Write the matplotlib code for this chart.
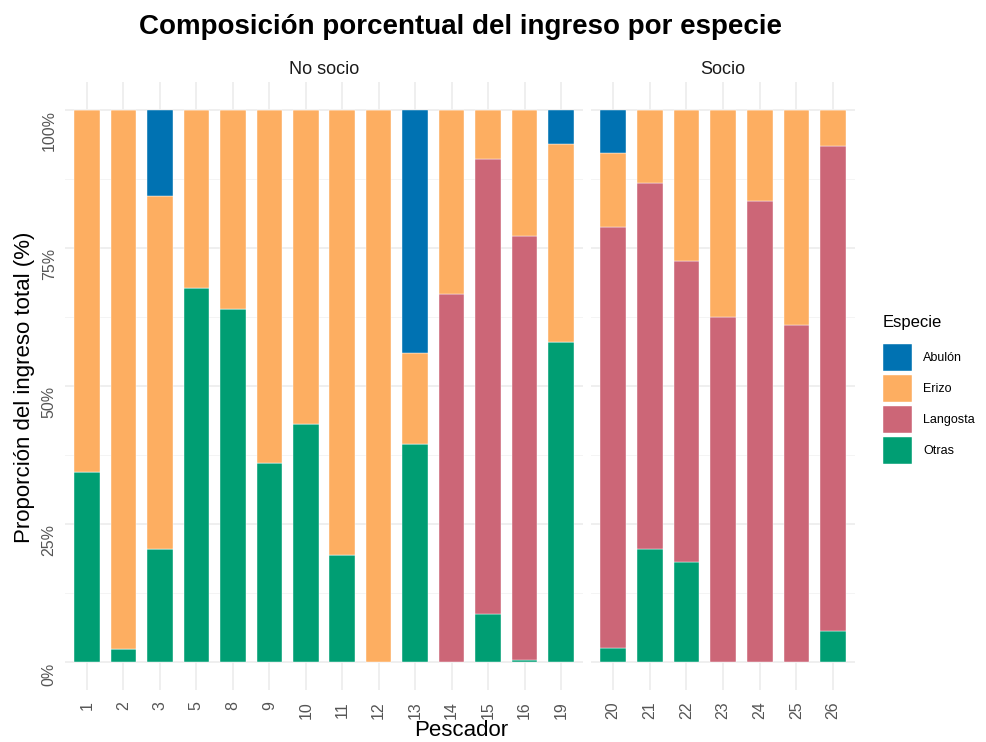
import matplotlib.pyplot as plt
from matplotlib.patches import Patch

plt.rcParams['font.family'] = ['Liberation Sans', 'DejaVu Sans']

# pescadores por grupo
no_socio = ['1', '2', '3', '5', '8', '9', '10', '11', '12', '13', '14', '15', '16', '19']
socio = ['20', '21', '22', '23', '24', '25', '26']

# porcentaje del ingreso por especie (No socio)
otras_ns = [34.4, 2.4, 20.5, 67.7, 64.0, 36.0, 43.2, 19.5, 0, 39.5, 0, 8.7, 0.5, 57.9]
langosta_ns = [0, 0, 0, 0, 0, 0, 0, 0, 0, 0, 66.6, 82.4, 76.7, 0]
erizo_ns = [65.6, 97.6, 63.9, 32.3, 36.0, 64.0, 56.8, 80.5, 100, 16.4, 33.4, 8.9, 22.8, 35.8]
abulon_ns = [0, 0, 15.6, 0, 0, 0, 0, 0, 0, 44.1, 0, 0, 0, 6.3]

# porcentaje del ingreso por especie (Socio)
otras_s = [2.6, 20.6, 18.1, 0, 0, 0, 5.6]
langosta_s = [76.1, 66.1, 54.6, 62.4, 83.5, 61.1, 87.8]
erizo_s = [13.4, 13.3, 27.3, 37.6, 16.5, 38.9, 6.6]
abulon_s = [7.9, 0, 0, 0, 0, 0, 0]

species = ['Abulón', 'Erizo', 'Langosta', 'Otras']
colors = {'Abulón': '#0072B2', 'Erizo': '#FDAE61', 'Langosta': '#CC6677', 'Otras': '#009E73'}

W, H = 987, 742
fig = plt.figure(figsize=(W / 100, H / 100), dpi=100)


def px_axes(x0, x1, y0, y1):
    return fig.add_axes([x0 / W, 1 - y1 / H, (x1 - x0) / W, (y1 - y0) / H])


ax1 = px_axes(65, 583, 82, 690)
ax2 = px_axes(591, 855, 82, 690)

panels = [
    (ax1, no_socio, [otras_ns, langosta_ns, erizo_ns, abulon_ns], 'No socio'),
    (ax2, socio, [otras_s, langosta_s, erizo_s, abulon_s], 'Socio'),
]
order = ['Otras', 'Langosta', 'Erizo', 'Abulón']

for ax, cats, series, strip in panels:
    x = list(range(len(cats)))
    bottom = [0] * len(cats)
    for name, vals in zip(order, series):
        frac = [v / 100 for v in vals]
        ax.bar(x, frac, bottom=bottom, width=0.7, color=colors[name],
               edgecolor='white', linewidth=0.3, zorder=3)
        bottom = [b + f for b, f in zip(bottom, frac)]
    ax.set_xlim(-0.6, len(cats) - 0.4)
    ax.set_ylim(-0.05, 1.05)
    ax.set_xticks(x)
    ax.set_xticklabels(cats, rotation=90, va='top', fontsize=11.5, color='#555555')
    ax.set_yticks([0, 0.25, 0.5, 0.75, 1.0])
    ax.set_yticks([0.125, 0.375, 0.625, 0.875], minor=True)
    ax.grid(True, which='major', color='#EBEBEB', linewidth=1.1, zorder=0)
    ax.grid(True, which='minor', axis='y', color='#F2F2F2', linewidth=0.6, zorder=0)
    ax.tick_params(axis='x', length=0, pad=8)
    ax.tick_params(axis='y', length=0, pad=6)
    ax.tick_params(which='minor', length=0)
    for s in ax.spines.values():
        s.set_visible(False)
    ax.set_title(strip, fontsize=13, color='#1A1A1A', pad=6)

ax1.set_yticklabels(['0%', '25%', '50%', '75%', '100%'], rotation=90, va='top',
                    ha='right', fontsize=11.5, color='#555555')
ax2.set_yticklabels([])

fig.text(461 / W, 1 - 27 / H, 'Composición porcentual del ingreso por especie',
         ha='center', va='center', fontsize=20, fontweight='bold', color='black')
fig.text(461 / W, 1 - 731 / H, 'Pescador', ha='center', va='center', fontsize=16)
fig.text(25 / W, 1 - 387 / H, 'Proporción del ingreso total (%)', ha='center',
         va='center', rotation=90, fontsize=16)

# leyenda
fig.text(883 / W, 1 - 323 / H, 'Especie', ha='left', va='center', fontsize=12)
handles = [Patch(facecolor=colors[s], edgecolor='white', linewidth=0.3) for s in species]
leg = fig.legend(handles, species, loc='upper left', bbox_to_anchor=(872 / W, 1 - 333 / H),
                 frameon=False, fontsize=9, handlelength=2.3, handleheight=2.9,
                 labelspacing=0.35, handletextpad=0.9)

fig.savefig('out.png', dpi=100)
